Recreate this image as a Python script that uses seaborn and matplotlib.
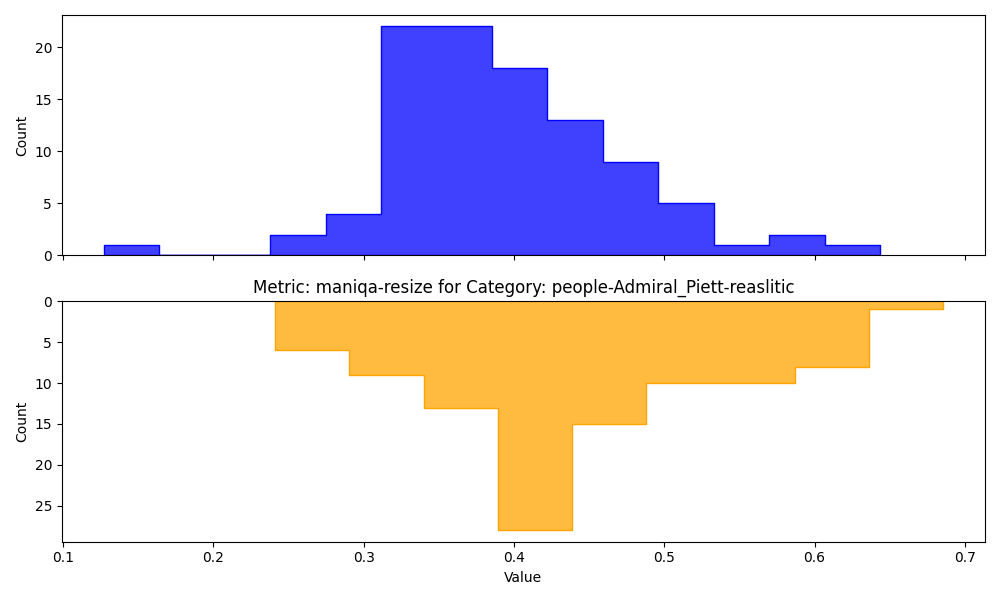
import numpy as np
import pandas as pd
import matplotlib
matplotlib.use("Agg")
import matplotlib.pyplot as plt
import seaborn as sns

# top histogram (blue): 14 bins
top_edges = np.linspace(0.1272, 0.6436, 15)
top_counts = [1, 0, 0, 2, 4, 22, 22, 18, 13, 9, 5, 1, 2, 1]

# bottom histogram (orange): 9 bins, drawn upside down
bot_edges = np.linspace(0.2411, 0.6855, 10)
bot_counts = [6, 9, 13, 28, 15, 10, 10, 8, 1]

title = "Metric: maniqa-resize for Category: people-Admiral_Piett-reaslitic"

top_df = pd.DataFrame({"Value": (top_edges[:-1] + top_edges[1:]) / 2,
                       "n": top_counts})
bot_df = pd.DataFrame({"Value": (bot_edges[:-1] + bot_edges[1:]) / 2,
                       "n": bot_counts})

fig, (ax1, ax2) = plt.subplots(2, 1, figsize=(10, 6), sharex=True)

sns.histplot(data=top_df, x="Value", weights="n", bins=list(top_edges),
             element="step", color="blue", alpha=0.75, ax=ax1)
ax1.set_ylabel("Count")
ax1.set_xlabel("")

sns.histplot(data=bot_df, x="Value", weights="n", bins=list(bot_edges),
             element="step", color="orange", alpha=0.75, ax=ax2)
ax2.invert_yaxis()
ax2.set_ylabel("Count")
ax2.set_xlabel("Value")
ax2.set_title(title)

plt.tight_layout()
plt.savefig("out.png", dpi=100)
